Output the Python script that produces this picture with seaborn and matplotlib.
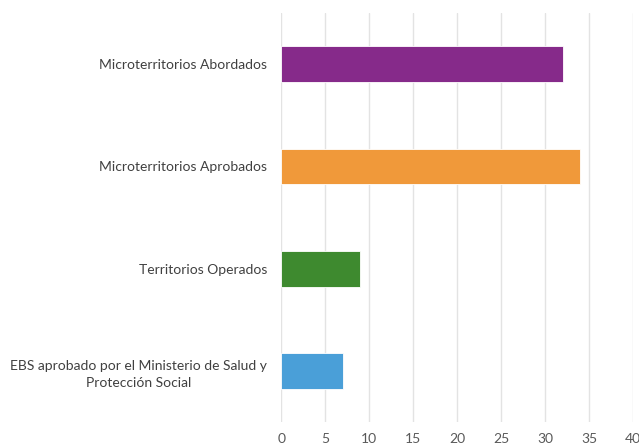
import matplotlib
matplotlib.use("Agg")
import matplotlib.pyplot as plt
import seaborn as sns
import pandas as pd

categories = [
    "Microterritorios Abordados",
    "Microterritorios Aprobados",
    "Territorios Operados",
    "EBS aprobado por el Ministerio de Salud y\nProtección Social",
]
values = [32, 34, 9, 7]
colors = ["#862A8A", "#F0993A", "#3E8A2F", "#4A9FD8"]
x_ticks = [0, 5, 10, 15, 20, 25, 30, 35, 40]

sns.set_style("white")
plt.rcParams["font.family"] = ["Lato", "DejaVu Sans"]

df = pd.DataFrame({"categoria": categories, "valor": values})

fig = plt.figure(figsize=(6.39, 4.45), dpi=100)
ax = fig.add_axes([0.44, 0.0517, 0.5506, 0.919])

sns.barplot(data=df, y="categoria", x="valor", hue="categoria",
            palette=colors, saturation=1, orient="h", width=0.35,
            legend=False, edgecolor="white", linewidth=0.6, ax=ax, zorder=3)

ax.set_xlim(0, 40)
ax.set_ylim(3.5, -0.5)
ax.set_xticks(x_ticks)
ax.grid(axis="x", color="#E3E3E3", linewidth=1, zorder=0)
ax.set_axisbelow(True)
for s in ax.spines.values():
    s.set_visible(False)
ax.tick_params(axis="both", length=0, labelsize=10, colors="#404040")
ax.tick_params(axis="x", pad=8, labelcolor="#595959")
ax.tick_params(axis="y", pad=10)
for lbl in ax.get_yticklabels():
    lbl.set_horizontalalignment("right")
    lbl.set_multialignment("center")
    lbl.set_linespacing(1.5)
ax.set_xlabel("")
ax.set_ylabel("")

fig.savefig("out.png", dpi=100)
